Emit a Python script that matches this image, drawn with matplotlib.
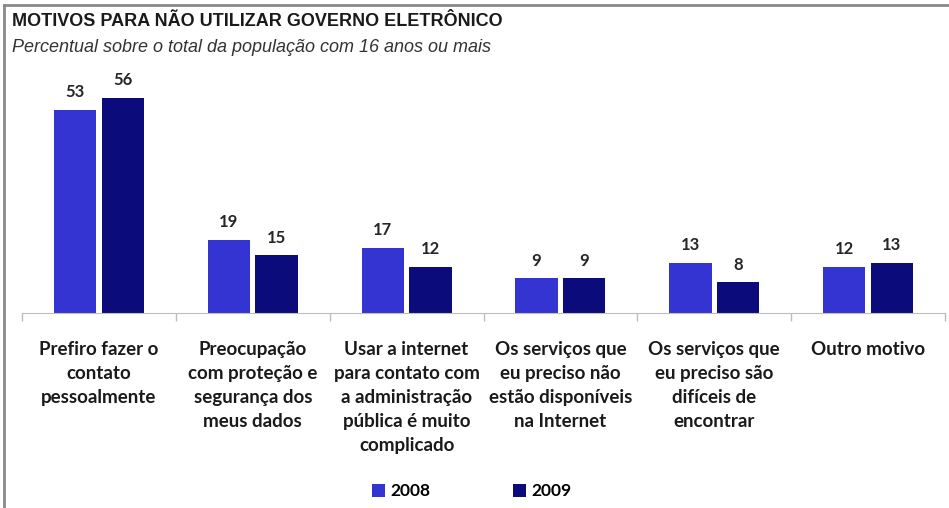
import numpy as np
import matplotlib.pyplot as plt

# survey results, % of population aged 16+
categorias = [
    "Prefiro fazer o\ncontato\npessoalmente",
    "Preocupação\ncom proteção e\nsegurança dos\nmeus dados",
    "Usar a internet\npara contato com\na administração\npública é muito\ncomplicado",
    "Os serviços que\neu preciso não\nestão disponíveis\nna Internet",
    "Os serviços que\neu preciso são\ndifíceis de\nencontrar",
    "Outro motivo",
]
valores_2008 = [53, 19, 17, 9, 13, 12]
valores_2009 = [56, 15, 12, 9, 8, 13]
anos = ["2008", "2009"]

cor_2008 = "#3434d2"
cor_2009 = "#0b0b7c"
fonte_rotulo = "Lato"

fig = plt.figure(figsize=(9.49, 5.08), dpi=100)

# gray frame on the top and left edges
fig.add_artist(plt.Line2D([0.004, 1.0], [0.990, 0.990], color="#8a8a8a", lw=2,
                          transform=fig.transFigure))
fig.add_artist(plt.Line2D([0.004, 0.004], [0.0, 0.990], color="#8a8a8a", lw=2,
                          transform=fig.transFigure))

fig.text(0.013, 0.948, "MOTIVOS PARA NÃO UTILIZAR GOVERNO ELETRÔNICO",
         family="Liberation Sans", weight="bold", fontsize=13, color="#1a1a1a")
fig.text(0.013, 0.898, "Percentual sobre o total da população com 16 anos ou mais",
         family="Liberation Sans", style="italic", fontsize=13, color="#333333")

ax = fig.add_axes([0.0232, 0.3839, 0.9726, 0.478])
x = np.arange(len(categorias))
w = 0.275
off = 0.155

b1 = ax.bar(x - off, valores_2008, w, color=cor_2008, label=anos[0])
b2 = ax.bar(x + off, valores_2009, w, color=cor_2009, label=anos[1])

for barras in (b1, b2):
    for b in barras:
        ax.annotate(f"{b.get_height():.0f}",
                    (b.get_x() + b.get_width() / 2, b.get_height()),
                    xytext=(0, 7), textcoords="offset points",
                    ha="center", va="bottom", fontsize=12,
                    family=fonte_rotulo, weight="bold", color="#262626")

ax.set_xlim(-0.5, len(categorias) - 0.5)
ax.set_ylim(0, 63.3)
ax.set_yticks([])
for s in ("top", "right", "left"):
    ax.spines[s].set_visible(False)
ax.spines["bottom"].set_color("#bdbdbd")

ax.set_xticks(x)
ax.set_xticklabels(categorias, family=fonte_rotulo, weight="bold",
                   fontsize=13.5, color="#1a1a1a", linespacing=1.5,
                   va="top")
ax.tick_params(axis="x", which="major", length=0, pad=20)
ax.set_xticks(np.arange(len(categorias) + 1) - 0.5, minor=True)
ax.tick_params(axis="x", which="minor", length=6, color="#bdbdbd", width=1)

leg = fig.legend(handles=[b1, b2], loc="center", bbox_to_anchor=(0.497, 0.033),
                 ncol=2, frameon=False, handlelength=0.75, handleheight=0.75,
                 handletextpad=0.3, columnspacing=4.8,
                 prop={"family": fonte_rotulo, "weight": "bold", "size": 12.5})

fig.savefig("out.png", dpi=100)
